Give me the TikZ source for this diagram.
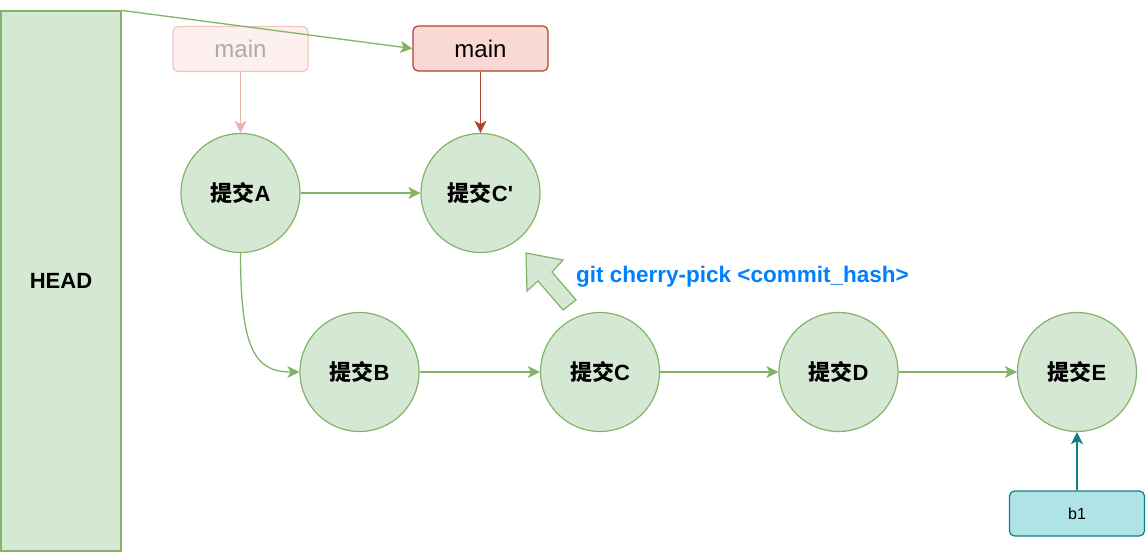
\documentclass[tikz,border=0pt]{standalone}
\usepackage{fontspec}
\setmainfont{Liberation Sans}
\newfontfamily\cjk{Noto Sans CJK SC}
\usetikzlibrary{arrows.meta}
\definecolor{gfill}{HTML}{D5E8D4}
\definecolor{gdraw}{HTML}{82B366}
\definecolor{rfill}{HTML}{FAD9D5}
\definecolor{rdraw}{HTML}{AE4132}
\definecolor{ghfill}{HTML}{FDF0EE}
\definecolor{ghdraw}{HTML}{EFC6C1}
\definecolor{ghtext}{HTML}{ABABAB}
\definecolor{gharrow}{HTML}{E6B3AD}
\definecolor{tfill}{HTML}{B0E3E6}
\definecolor{tdraw}{HTML}{0E8088}
\definecolor{cmdblue}{HTML}{007FFF}
\tikzset{
  commit/.style={circle, draw=gdraw, fill=gfill, line width=1.2pt, minimum size=119pt, inner sep=0pt, font=\bfseries\fontsize{22}{26}\selectfont},
  branchbox/.style={rectangle, rounded corners=5pt, line width=1.2pt, minimum width=135pt, minimum height=45pt, inner sep=0pt},
  headbox/.style={rectangle, draw=gdraw, fill=gfill, line width=1.2pt, minimum width=120pt, minimum height=540pt, inner sep=0pt, font=\bfseries\fontsize{22}{26}\selectfont},
  link/.style={draw=gdraw, line width=1.3pt, -{Stealth[length=12pt,width=12pt,inset=3pt]}},
}
\begin{document}
\begin{tikzpicture}[x=1pt,y=-1pt]
\useasboundingbox (0,0) rectangle (1146,554);
\node[headbox] (head) at (61,281) {HEAD};
\node[branchbox, draw=ghdraw, fill=ghfill, text=ghtext, font=\fontsize{24}{28}\selectfont] (oldmain) at (240.5,49) {main};
\node[branchbox, draw=rdraw, fill=rfill, font=\fontsize{24}{28}\selectfont] (main) at (480.5,48.5) {main};
\node[commit] (A) at (240.5,193) {{\cjk 提交}A};
\node[commit] (Cp) at (480.5,193) {{\cjk 提交}C\textquotesingle};
\node[commit] (B) at (359.5,372) {{\cjk 提交}B};
\node[commit] (C) at (600,372) {{\cjk 提交}C};
\node[commit] (D) at (838.5,372) {{\cjk 提交}D};
\node[commit] (E) at (1077,372) {{\cjk 提交}E};
\node[branchbox, draw=tdraw, fill=tfill, font=\fontsize{16}{19}\selectfont] (b1) at (1077,513.5) {b1};
\node[anchor=west, text=cmdblue, font=\bfseries\fontsize{22.5}{26}\selectfont, inner sep=0pt] (cmd) at (576,277) {git cherry-pick <commit\_hash>};
% connectors
\draw[link] (head.north east) -- (main.west);
\draw[link, draw=gharrow] (oldmain.south) -- (A.north);
\draw[link, draw=rdraw] (main.south) -- (Cp.north);
\draw[link] (A.east) -- (Cp.west);
\draw[link] (A.south) .. controls ++(0,95) and ++(-45,0) .. (B.west);
\draw[link] (B.east) -- (C.west);
\draw[link] (C.east) -- (D.west);
\draw[link] (D.east) -- (E.west);
\draw[link, draw=tdraw] (b1.north) -- (E.south);
% block arrow
\draw[draw=gdraw, fill=gfill, line width=1.2pt, line join=miter]
  (526,253) -- (563,260) -- (552,272) -- (576,300) -- (563,310) -- (538,281) -- (527,291) -- cycle;
\end{tikzpicture}
\end{document}
